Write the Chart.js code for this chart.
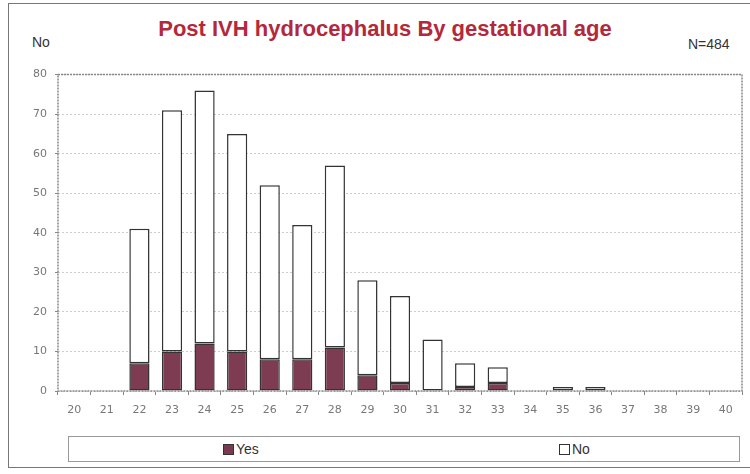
<!DOCTYPE html>
<html>
<head>
<meta charset="utf-8">
<script src="https://cdn.jsdelivr.net/npm/chart.js@4.4.1/dist/chart.umd.min.js"></script>
<style>
  html,body{margin:0;padding:0;background:#fff;}
  #wrap{position:relative;width:750px;height:474px;overflow:hidden;background:#fff;}
  #frame{position:absolute;left:8px;top:3px;width:760px;height:465px;border:1.5px solid #777;box-sizing:border-box;}
  #title{position:absolute;left:0;width:770px;top:16px;text-align:center;font-family:"Liberation Sans",Arial,sans-serif;font-weight:bold;font-size:22px;color:#b3283a;}
  #ylab{position:absolute;left:32px;top:34px;font-family:"Liberation Sans Narrow","Liberation Sans",sans-serif;font-size:14px;color:#333;}
  #nlab{position:absolute;left:688px;top:36px;font-family:"Liberation Sans Narrow","Liberation Sans",sans-serif;font-size:14px;color:#333;}
  #cv{position:absolute;left:0;top:60px;}
  #legend{position:absolute;left:68px;top:436px;width:672px;height:26px;border:1px solid #999;box-sizing:border-box;font-family:"Liberation Sans Narrow","Liberation Sans",sans-serif;font-size:14px;color:#333;}
  .li{position:absolute;top:4px;}
  .sw{display:inline-block;width:9px;height:9px;border:1px solid #333;vertical-align:-1px;margin-right:2px;}
</style>
</head>
<body>
<div id="wrap">
  <div id="frame"></div>
  <div id="title">Post IVH hydrocephalus By gestational age</div>
  <div id="ylab">No</div>
  <div id="nlab">N=484</div>
  <canvas id="cv" width="750" height="359"></canvas>
  <div id="legend">
    <span class="li" style="left:154px"><span class="sw" style="background:#7b3a50"></span>Yes</span>
    <span class="li" style="left:490px"><span class="sw" style="background:#fff"></span>No</span>
  </div>
</div>
<script>
const categories = ['20','21','22','23','24','25','26','27','28','29','30','31','32','33','34','35','36','37','38','39','40'];
const yesValues = [0,0,7,10,12,10,8,8,11,4,2,0,1,2,0,0,0,0,0,0,0];
const noValues  = [0,0,34,61,64,55,44,34,46,24,22,13,6,4,0,1,1,0,0,0,0];
const yTicks = [0,10,20,30,40,50,60,70,80];

const framePlugin = {
  id:'frame',
  afterDraw(chart){
    const a = chart.chartArea, c = chart.ctx;
    c.save();
    c.strokeStyle = '#888';
    c.lineWidth = 1.5;
    c.setLineDash([2,1]);
    c.strokeRect(a.left, a.top, a.right - a.left, a.bottom - a.top);
    c.restore();
  }
};

const hideZero = arr => arr.map(v => v === 0 ? null : v);

new Chart(document.getElementById('cv'), {
  type:'bar',
  data:{
    labels:categories,
    datasets:[
      {label:'Yes', data:hideZero(yesValues), backgroundColor:'#7d3c52', borderColor:'#333', borderWidth:1.5, barPercentage:0.62, categoryPercentage:1, borderSkipped:false},
      {label:'No', data:hideZero(noValues), backgroundColor:'#ffffff', borderColor:'#333', borderWidth:1.5, barPercentage:0.62, categoryPercentage:1, borderSkipped:false}
    ]
  },
  options:{
    responsive:false,
    animation:false,
    layout:{padding:{left:0,right:8,top:12,bottom:0}},
    plugins:{legend:{display:false},tooltip:{enabled:false}},
    scales:{
      x:{
        stacked:true,
        grid:{display:true, drawOnChartArea:false, drawTicks:true, tickLength:4, color:'#888', offset:true},
        border:{display:false},
        ticks:{color:'#777', font:{family:'"DejaVu Sans", Verdana, sans-serif', size:11}, padding:9, maxRotation:0, autoSkip:false},
        afterFit(s){ s.height = 28; }
      },
      y:{
        stacked:true,
        min:0, max:80,
        afterBuildTicks(s){ s.ticks = yTicks.map(v=>({value:v})); },
        grid:{color:'#ccc', drawTicks:true, tickLength:3, tickColor:'#888'},
        border:{display:false, dash:[2,2]},
        ticks:{color:'#777', font:{family:'"DejaVu Sans", Verdana, sans-serif', size:11}, padding:8},
        afterFit(s){ s.width = 58; }
      }
    }
  },
  plugins:[framePlugin]
});
</script>
</body>
</html>
